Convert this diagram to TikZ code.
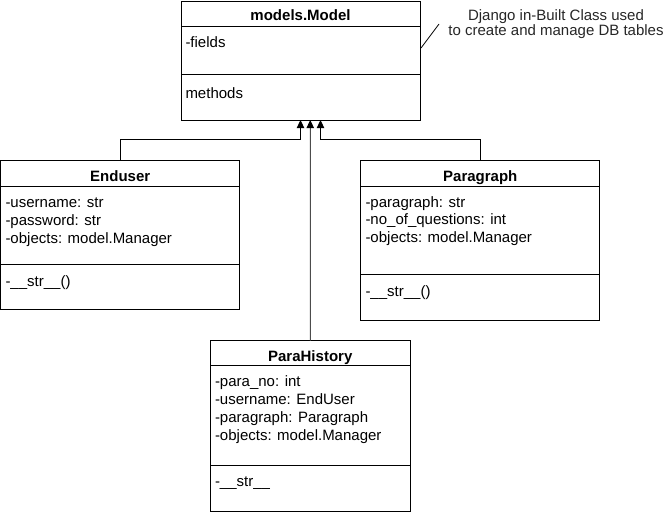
\documentclass[tikz,border=0pt]{standalone}
\usepackage{fontspec}
\setmainfont{Liberation Sans}
\usetikzlibrary{arrows.meta,calc}
\begin{document}
\begin{tikzpicture}[x=0.75pt,y=-0.75pt,line width=0.75pt,
  umlbox/.style={draw, rectangle, anchor=north west, inner sep=0pt, outer sep=0pt},
  hdr/.style={font=\fontsize{11.25}{13.5}\selectfont\bfseries, inner sep=0pt, anchor=base},
  attr/.style={font=\fontsize{11.25}{13.5}\selectfont, inner sep=0pt, anchor=base west},
  notetext/.style={font=\fontsize{11.25}{11.25}\selectfont, inner sep=0pt, anchor=base, text=black!85},
  inh/.style={-{Triangle[width=5.5pt,length=6pt,color=black]}},
]
\useasboundingbox (0,0) rectangle (671,514);

% models.Model
\node[umlbox, minimum width=179.25pt, minimum height=89.25pt] (mm) at (181,1) {};
\draw (181,26) -- (420,26);
\draw (181,74) -- (420,74);
\node[hdr] (mmh) at (300.5,20.5) {models.Model};
\node[attr] (mma) at (185,47) {-fields};
\node[attr] (mmm) at (185,98) {methods};

% note
\node[notetext] (n1) at (556,20) {Django in-Built Class used};
\node[notetext] (n2) at (556,35) {to create and manage DB tables};
\coordinate (nl1) at (421,48);
\coordinate (nl2) at (439,24);
\draw[line width=0.6pt] (nl1) -- (nl2);

% Enduser
\node[umlbox, minimum width=179.6pt, minimum height=112.1pt] (eu) at (0.5,160.5) {};
\draw (0.5,186) -- (240,186);
\draw (0.5,264) -- (240,264);
\node[hdr] (euh) at (120.25,181) {Enduser};
\node[attr] (eu1) at (5,207) {-username: str};
\node[attr] (eu2) at (5,225) {-password: str};
\node[attr] (eu3) at (5,243) {-objects: model.Manager};
\node[attr] (eu4) at (5,286.5) {-\_\_str\_\_()};

% Paragraph
\node[umlbox, minimum width=179.6pt, minimum height=120pt] (pg) at (360.5,160.5) {};
\draw (360.5,186) -- (600,186);
\draw (360.5,274) -- (600,274);
\node[hdr] (pgh) at (480.25,181) {Paragraph};
\node[attr] (pg1) at (365,207) {-paragraph: str};
\node[attr] (pg2) at (365,224.5) {-no\_of\_questions: int};
\node[attr] (pg3) at (365,242) {-objects: model.Manager};
\node[attr] (pg4) at (365,296.5) {-\_\_str\_\_()};

% ParaHistory
\node[umlbox, minimum width=150.4pt, minimum height=128.25pt] (ph) at (210,340.5) {};
\draw (210,365) -- (410.5,365);
\draw (210,465) -- (410.5,465);
\node[hdr] (phh) at (310.25,361.5) {ParaHistory};
\node[attr] (ph1) at (214.5,386) {-para\_no: int};
\node[attr] (ph2) at (214.5,404) {-username: EndUser};
\node[attr] (ph3) at (214.5,422) {-paragraph: Paragraph};
\node[attr] (ph4) at (214.5,440) {-objects: model.Manager};
\node[attr] (ph5) at (214.5,486.5) {-\_\_str\_\_};

% inheritance connectors
\coordinate (m1) at (300.5,120);
\coordinate (m2) at (310.25,120);
\coordinate (m3) at (320.5,120);
\draw[inh] (eu.north) -- ++(0,-21) -| (m1);
\draw[inh, draw=black!70] (ph.north) -- (m2);
\draw[inh] (pg.north) -- ++(0,-21) -| (m3);
\end{tikzpicture}
\end{document}
